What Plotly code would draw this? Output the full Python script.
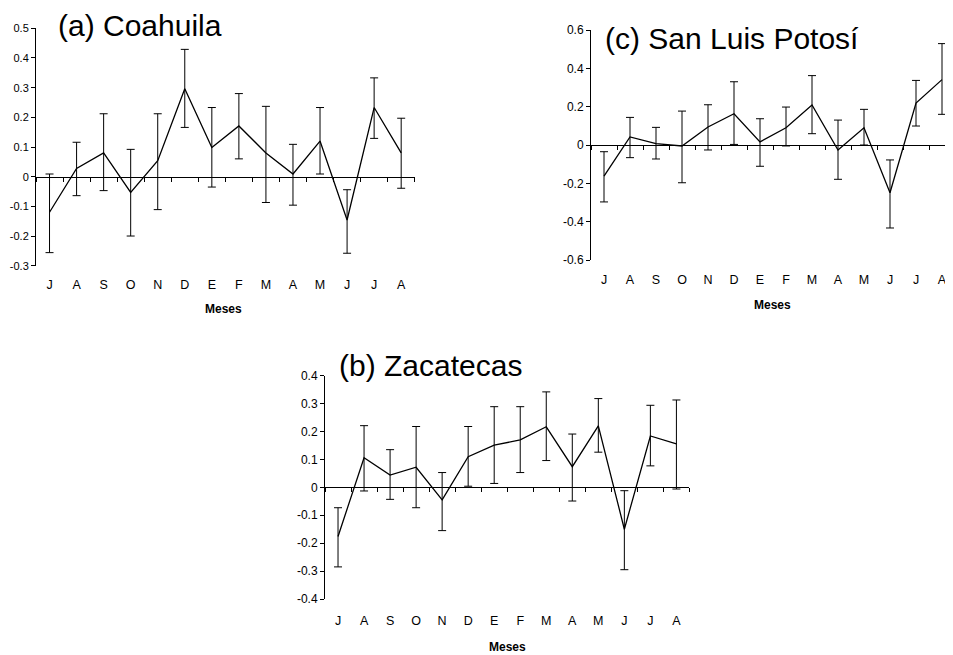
import plotly.graph_objects as go

PAGE_W, PAGE_H = 953, 655
OFF = 8  # default page body margin
W, H = PAGE_W - OFF, PAGE_H - OFF
FONT = "Liberation Sans, Arial, sans-serif"

# ---------------- data ----------------
months = ["J", "A", "S", "O", "N", "D", "E", "F", "M", "A", "M", "J", "J", "A"]

coahuila_mean = [-0.120, 0.028, 0.080, -0.053, 0.054, 0.296, 0.098, 0.171, 0.080, 0.009, 0.120, -0.146, 0.233, 0.080]
coahuila_upper = [0.009, 0.116, 0.212, 0.092, 0.212, 0.429, 0.233, 0.280, 0.237, 0.109, 0.233, -0.044, 0.333, 0.197]
coahuila_lower = [-0.256, -0.064, -0.047, -0.200, -0.111, 0.166, -0.035, 0.060, -0.087, -0.096, 0.009, -0.258, 0.129, -0.039]
coahuila_yticks = [-0.3, -0.2, -0.1, 0, 0.1, 0.2, 0.3, 0.4, 0.5]

slp_mean = [-0.162, 0.042, 0.007, -0.005, 0.094, 0.163, 0.016, 0.090, 0.209, -0.026, 0.090, -0.249, 0.219, 0.341]
slp_upper = [-0.035, 0.144, 0.092, 0.177, 0.210, 0.330, 0.137, 0.198, 0.362, 0.130, 0.186, -0.078, 0.337, 0.529]
slp_lower = [-0.297, -0.066, -0.073, -0.197, -0.026, 0.003, -0.111, -0.005, 0.059, -0.179, 0.000, -0.433, 0.099, 0.160]
slp_yticks = [-0.6, -0.4, -0.2, 0, 0.2, 0.4, 0.6]

zac_mean = [-0.176, 0.106, 0.044, 0.072, -0.045, 0.110, 0.151, 0.170, 0.217, 0.074, 0.220, -0.150, 0.184, 0.156]
zac_upper = [-0.073, 0.221, 0.135, 0.218, 0.053, 0.218, 0.289, 0.289, 0.342, 0.191, 0.318, -0.012, 0.294, 0.313]
zac_lower = [-0.285, -0.013, -0.043, -0.073, -0.155, 0.004, 0.014, 0.053, 0.096, -0.049, 0.126, -0.295, 0.077, -0.006]
zac_yticks = [-0.4, -0.3, -0.2, -0.1, 0, 0.1, 0.2, 0.3, 0.4]

# ---------------- layout specs (page pixels) ----------------
panels = [
    dict(name="(a) Coahuila", mean=coahuila_mean, up=coahuila_upper, lo=coahuila_lower,
         yticks=coahuila_yticks, x0=36, step=27.05, x1=414.7, ytop=28.3, ybot=265.7,
         ytickfont=11, standoff=96, title_xy=(56, 25.5), meses_xy=(223, 308.5)),
    dict(name="(c) San Luis Potosí", mean=slp_mean, up=slp_upper, lo=slp_lower,
         yticks=slp_yticks, x0=591, step=26.0, x1=955, ytop=30, ybot=260,
         ytickfont=12, standoff=123, title_xy=(603, 39), meses_xy=(772, 305)),
    dict(name="(b) Zacatecas", mean=zac_mean, up=zac_upper, lo=zac_lower,
         yticks=zac_yticks, x0=325, step=26.03, x1=689.4, ytop=375.7, ybot=599,
         ytickfont=12, standoff=122, title_xy=(337, 365.6), meses_xy=(507, 646.5)),
]


def px_x(px):
    return (px - OFF) / W


def px_y(py):
    return 1 - (py - OFF) / H


fig = go.Figure()
annotations = []
n = len(months)
xs = list(range(n))

for i, p in enumerate(panels):
    k = "" if i == 0 else str(i + 1)
    err_plus = [u - m for u, m in zip(p["up"], p["mean"])]
    err_minus = [m - l for m, l in zip(p["mean"], p["lo"])]
    fig.add_trace(go.Scatter(
        x=xs, y=p["mean"], mode="lines",
        line=dict(color="black", width=1.3),
        error_y=dict(type="data", symmetric=False, array=err_plus, arrayminus=err_minus,
                     color="black", thickness=1, width=4),
        xaxis="x" + k, yaxis="y" + k, showlegend=False, hoverinfo="skip",
    ))
    ymin, ymax = p["yticks"][0], p["yticks"][-1]
    x_end = min(p["x1"], PAGE_W)
    dom_y = [px_y(p["ybot"]), px_y(p["ytop"])]
    dom_x = [px_x(p["x0"]), min(px_x(x_end), 1.0)]
    xmax = -0.5 + (x_end - p["x0"]) / p["step"]
    zero_pos = dom_y[0] + (0 - ymin) / (ymax - ymin) * (dom_y[1] - dom_y[0])
    fig.update_layout({
        "xaxis" + k: dict(
            domain=dom_x, range=[-0.5, xmax], anchor="free", position=zero_pos,
            tickvals=xs, ticktext=months, ticks="", showgrid=False, zeroline=False,
            showline=True, linecolor="black", linewidth=1, automargin=False,
            tickfont=dict(family=FONT, size=12.5, color="black"),
            ticklabelstandoff=p["standoff"],
            minor=dict(tickvals=[j - 0.5 for j in range(n + 1)], ticks="outside",
                       ticklen=4, tickcolor="black", tickwidth=1, showgrid=False),
            fixedrange=True,
        ),
        "yaxis" + k: dict(
            domain=dom_y, range=[ymin, ymax], anchor="x" + k, automargin=False,
            tickvals=p["yticks"], ticktext=[f"{v:g}" for v in p["yticks"]],
            ticks="outside", ticklen=4, tickcolor="black", tickwidth=1,
            showline=True, linecolor="black", linewidth=1,
            showgrid=False, zeroline=False,
            tickfont=dict(family=FONT, size=p["ytickfont"], color="black"),
            fixedrange=True,
        ),
    })
    annotations.append(dict(
        text=p["name"], xref="paper", yref="paper",
        x=px_x(p["title_xy"][0]), y=px_y(p["title_xy"][1]),
        xanchor="left", yanchor="middle", showarrow=False,
        font=dict(family=FONT, size=30, color="black"),
    ))
    annotations.append(dict(
        text="<b>Meses</b>", xref="paper", yref="paper",
        x=px_x(p["meses_xy"][0]), y=px_y(p["meses_xy"][1]),
        xanchor="center", yanchor="middle", showarrow=False,
        font=dict(family=FONT, size=12, color="black"),
    ))

fig.update_layout(
    template="none",
    width=W, height=H, margin=dict(l=0, r=0, t=0, b=0, pad=0, autoexpand=False),
    paper_bgcolor="white", plot_bgcolor="white",
    annotations=annotations, showlegend=False,
)

fig.write_html("out.html")
